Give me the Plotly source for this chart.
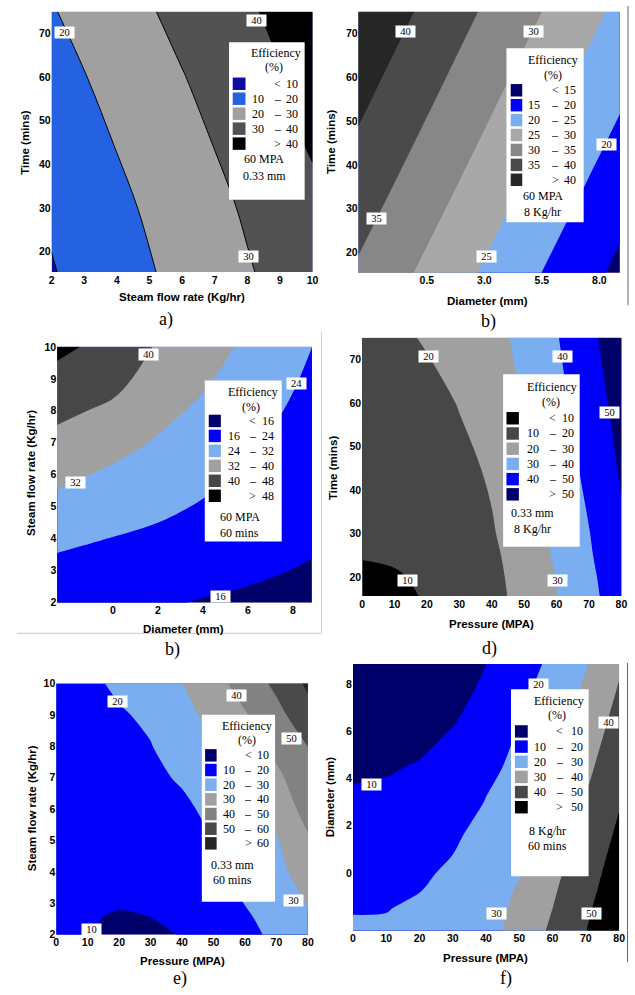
import plotly.graph_objects as go

W, H = 635, 995

# ---------------- panel a : time vs steam flow rate ----------------
A_steam = [2, 4, 6, 8, 10]
A_time = [15, 30, 45, 60, 75]
A_eff = [
    [9.4, 16.0, 22.6, 29.2, 35.8],
    [11.3, 17.9, 24.5, 31.1, 37.7],
    [13.8, 20.4, 27.0, 33.6, 41.0],
    [16.4, 23.0, 29.6, 36.2, 42.8],
    [19.4, 26.0, 32.6, 38.8, 45.3],
]
A_levels = [10, 20, 30, 40]
A_colors = ["#0c0ca3", "#2462e2", "#a0a0a0", "#525252", "#000000"]
A_conditions = ["60 MPA", "0.33 mm"]
A_labels = [("20", 2.41, 70.2), ("40", 8.28, 72.95), ("30", 8.04, 18.8)]

# ---------------- panel b (top) : time vs diameter ----------------
B1_diam = [-2.5, 0, 2.5, 5, 7.5, 9]
B1_time = [15, 45, 75]
B1_eff = [
    [34.3, 29.8, 25.3, 20.8, 16.3, 13.6],
    [39.4, 34.9, 30.4, 25.9, 21.4, 18.7],
    [44.4, 39.9, 35.4, 30.9, 26.4, 23.7],
]
B1_levels = [15, 20, 25, 30, 35, 40]
B1_colors = ["#00006b", "#0000fa", "#7aaef0", "#a8a8a8", "#878787", "#4a4a4a", "#262626"]
B1_conditions = ["60 MPA", "8 Kg/hr"]
B1_labels = [("40", -0.43, 70.4), ("30", 5.14, 70.4), ("35", -1.69, 27.7),
             ("25", 3.09, 19.1), ("20", 8.29, 44.7)]
B1_xticks = [0.5, 3.0, 5.5, 8.0]
B1_xticktext = ["0.5", "3.0", "5.5", "8.0"]

# ---------------- panel b (middle) : steam flow vs diameter ----------------
B2_diam = [-2.5, 0, 2, 4, 6, 8, 8.9]
B2_steam = [2, 3, 4, 5, 6, 7, 8, 9, 10]
B2_eff = [
    [17.8, 16.9, 16.7, 15.6, 14.9, 14.5, 14.3],
    [21.8, 20.4, 19.6, 18.2, 17.0, 15.9, 15.5],
    [25.8, 23.8, 22.5, 20.8, 19.0, 17.4, 16.7],
    [29.8, 27.3, 25.5, 23.4, 21.1, 18.8, 17.9],
    [33.8, 30.7, 28.4, 25.8, 23.2, 20.3, 19.1],
    [37.8, 34.5, 31.3, 28.2, 25.1, 21.7, 20.3],
    [41.8, 38.5, 34.0, 30.7, 26.9, 23.2, 21.5],
    [45.8, 42.5, 36.6, 33.1, 28.7, 24.6, 22.7],
    [49.8, 45.5, 39.2, 35.5, 30.5, 25.9, 23.9],
]
B2_levels = [16, 24, 32, 40, 48]
B2_colors = ["#00006b", "#0000fa", "#7aaef0", "#a0a0a0", "#474747", "#000000"]
B2_conditions = ["60 MPA", "60 mins"]
B2_labels = [("40", 1.58, 9.76), ("24", 8.16, 8.84), ("32", -1.68, 5.75), ("16", 4.79, 2.19)]

# ---------------- panel d : time vs pressure ----------------
D_press = [0, 10, 20, 30, 40, 50, 60, 70, 80]
D_time = [15, 20, 25, 30, 45, 60, 75]
D_eff = [
    [7.0, 8.5, 10.4, 14.4, 18.0, 22.1, 29.5, 37.3, 45.2],
    [8.6, 9.3, 11.2, 15.4, 18.4, 22.4, 30.3, 38.1, 45.8],
    [10.4, 11.0, 12.8, 15.6, 19.0, 22.5, 31.6, 38.9, 47.7],
    [11.2, 11.8, 13.5, 16.3, 19.3, 24.7, 32.3, 39.7, 48.6],
    [13.5, 14.3, 15.8, 17.8, 21.1, 28.1, 34.8, 42.4, 51.1],
    [14.8, 15.8, 17.0, 20.4, 25.3, 30.5, 37.2, 45.0, 53.6],
    [15.6, 18.0, 20.9, 24.5, 28.0, 31.6, 39.4, 47.6, 56.4],
]
D_levels = [10, 20, 30, 40, 50]
D_colors = ["#000000", "#474747", "#a0a0a0", "#7aaef0", "#0000fa", "#00006b"]
D_conditions = ["0.33 mm", "8 Kg/hr"]
D_labels = [("20", 20.6, 70.8), ("40", 61.9, 70.8), ("50", 76.2, 57.8),
            ("10", 13.9, 19.3), ("30", 60.2, 19.3)]

# ---------------- panel e : steam flow vs pressure ----------------
E_press = [0, 10, 20, 30, 40, 50, 60, 70, 80]
E_steam = [2, 2.5, 3, 4, 5, 6, 7, 8, 9, 10]
E_eff = [
    [12.0, 10.35, 9.2, 8.9, 10.25, 13.8, 17.2, 22.2, 27.8],
    [12.6, 10.3, 9.6, 9.9, 11.9, 15.0, 18.8, 22.9, 29.4],
    [13.2, 11.2, 10.3, 10.7, 12.8, 16.0, 20.2, 25.3, 30.4],
    [14.4, 12.6, 11.8, 12.4, 14.6, 17.9, 22.5, 27.4, 34.3],
    [15.6, 14.1, 13.4, 14.3, 16.9, 20.1, 24.7, 29.2, 38.9],
    [16.6, 15.3, 14.9, 16.0, 18.0, 22.6, 25.5, 33.7, 43.5],
    [17.8, 16.9, 16.6, 17.9, 21.1, 25.7, 30.5, 38.2, 45.6],
    [18.6, 18.4, 18.8, 19.7, 24.2, 28.8, 35.0, 42.3, 50.1],
    [19.1, 18.6, 19.2, 21.4, 27.3, 32.6, 39.3, 47.0, 56.5],
    [19.5, 18.3, 21.4, 25.7, 29.8, 36.6, 43.9, 52.2, 61.7],
]
E_levels = [10, 20, 30, 40, 50, 60]
E_colors = ["#00006b", "#0000fa", "#7aaef0", "#a0a0a0", "#828282", "#4a4a4a", "#262626"]
E_conditions = ["0.33 mm", "60 mins"]
E_labels = [("20", 19.5, 9.41), ("40", 57.2, 9.6), ("50", 74.8, 8.24),
            ("30", 75.4, 3.1), ("10", 11.2, 2.18)]

# ---------------- panel f : diameter vs pressure ----------------
F_press = [0, 10, 20, 30, 40, 50, 60, 70, 80]
F_diam = [-2.5, -1.5, -0.75, 0, 1.5, 3, 4.5, 6, 7.5, 8.9]
F_eff = [
    [21.3, 21.6, 22.8, 24.6, 26.4, 33.9, 41.7, 49.9, 58.4],
    [19.5, 19.6, 21.8, 23.6, 25.9, 32.2, 40.0, 48.4, 56.9],
    [18.3, 18.4, 19.8, 22.1, 25.85, 30.9, 38.8, 47.1, 55.6],
    [16.9, 17.3, 18.6, 21.4, 25.8, 29.5, 37.5, 45.9, 54.4],
    [14.2, 14.6, 16.0, 18.7, 23.4, 27.4, 34.9, 43.3, 51.9],
    [11.4, 11.9, 13.3, 15.9, 20.3, 25.9, 32.1, 40.6, 49.3],
    [8.7, 9.2, 10.6, 14.9, 18.3, 21.7, 29.4, 37.8, 46.5],
    [6.0, 6.4, 7.6, 10.4, 15.5, 20.5, 27.1, 35.0, 43.9],
    [3.3, 3.9, 5.0, 6.9, 12.4, 18.0, 24.5, 32.0, 41.2],
    [0.9, 1.5, 3.0, 5.6, 9.8, 15.6, 21.9, 29.3, 38.6],
]
F_levels = [10, 20, 30, 40, 50]
F_colors = ["#00006b", "#0000fa", "#7aaef0", "#a0a0a0", "#474747", "#000000"]
F_conditions = ["8 Kg/hr", "60 mins"]
F_labels = [("10", 5.6, 3.75), ("20", 55.9, 7.96), ("40", 76.7, 6.35),
            ("30", 43.1, -1.74), ("50", 71.8, -1.74)]

# ---------------- layout (pixel geometry) ----------------
SANS = "Liberation Sans, Arial, sans-serif"
SERIF = "Liberation Serif, Times New Roman, serif"

panels = [
    dict(x=A_steam, y=A_time, z=A_eff, levels=A_levels, colors=A_colors, lw=1.0, sm=1.0,
         cond=A_conditions, labels=A_labels,
         plot=(49.3, 5.7, 314, 269.3), xr=[2, 10], yr=[15.3, 75],
         xt=list(range(2, 11)), xtt=None, yt=[20, 30, 40, 50, 60, 70],
         xtitle="Steam flow rate (Kg/hr)", xtpos=(181.7, 295),
         ytitle="Time (mins)", ytpos=(22.7, 138), cap="a)", cappos=(165, 317),
         leg=dict(box=(229.3, 36.7, 306, 196), title=(277, 47.7), pct=(275, 62),
                  sq=(233, 246), y0=78.7, step=15.15, lo=258.3, dash=278.7, hi=301.7,
                  ccx=265, cy=(155.3, 172.3))),
    dict(x=B1_diam, y=B1_time, z=B1_eff, levels=B1_levels, colors=B1_colors, lw=0, sm=1.0,
         cond=B1_conditions, labels=B1_labels,
         plot=(360.7, 5.7, 625.7, 270), xr=[-2.47, 8.89], yr=[15.4, 75],
         xt=B1_xticks, xtt=B1_xticktext, yt=[20, 30, 40, 50, 60, 70],
         xtitle="Diameter (mm)", xtpos=(491.7, 298.3),
         ytitle="Time (mins)", ytpos=(333.3, 138), cap="b)", cappos=(492, 319),
         leg=dict(box=(510.7, 42.7, 589, 219), title=(558.3, 55), pct=(558.3, 70),
                  sq=(515, 526.7), y0=85.3, step=15.1, lo=539, dash=560, hi=583.3,
                  ccx=547.3, cy=(192.7, 208.3))),
    dict(x=B2_diam, y=B2_steam, z=B2_eff, levels=B2_levels, colors=B2_colors, lw=0, sm=1.0,
         cond=B2_conditions, labels=B2_labels,
         plot=(55, 345, 313.3, 604), xr=[-2.47, 8.84], yr=[2, 10],
         xt=[0, 2, 4, 6, 8], xtt=None, yt=list(range(2, 11)),
         xtitle="Diameter (mm)", xtpos=(183.5, 631),
         ytitle="Steam flow rate (Kg/hr)", ytpos=(29, 473), cap="b)", cappos=(171.5, 651),
         leg=dict(box=(204.7, 379, 282.7, 542), title=(253.3, 391), pct=(251.7, 406),
                  sq=(208.7, 221), y0=420, step=15.15, lo=234, dash=253.3, hi=277.3,
                  ccx=240, cy=(517.7, 533.3))),
    dict(x=D_press, y=D_time, z=D_eff, levels=D_levels, colors=D_colors, lw=0, sm=1.0,
         cond=D_conditions, labels=D_labels,
         plot=(364.3, 335, 627.3, 597.3), xr=[0, 80], yr=[15.6, 75.2],
         xt=list(range(0, 81, 10)), xtt=None, yt=[20, 30, 40, 50, 60, 70],
         xtitle="Pressure (MPA)", xtpos=(495.5, 626),
         ytitle="Time (mins)", ytpos=(335, 467.5), cap="d)", cappos=(493, 650),
         leg=dict(box=(507.3, 372.7, 585, 547.3), title=(556.7, 386), pct=(556, 400.7),
                  sq=(510.7, 523.3), y0=417.3, step=15.4, lo=537.5, dash=557.7, hi=581.7,
                  ccx=536.7, cy=(513.3, 529.3))),
    dict(x=E_press, y=E_steam, z=E_eff, levels=E_levels, colors=E_colors, lw=0, sm=0.8,
         cond=E_conditions, labels=E_labels,
         plot=(54, 685.7, 309.3, 940), xr=[0, 80], yr=[2, 10],
         xt=list(range(0, 81, 10)), xtt=None, yt=list(range(2, 11)),
         xtitle="Pressure (MPA)", xtpos=(181.7, 966.5),
         ytitle="Steam flow rate (Kg/hr)", ytpos=(29, 812.5), cap="e)", cappos=(180, 984),
         leg=dict(box=(201.7, 717.3, 276, 906.7), title=(248, 728.3), pct=(248, 743),
                  sq=(205, 216.7), y0=758.5, step=14.85, lo=229.5, dash=249, hi=272,
                  ccx=233, cy=(869.3, 884.6))),
    dict(x=F_press, y=F_diam, z=F_eff, levels=F_levels, colors=F_colors, lw=0, sm=1.0,
         cond=F_conditions, labels=F_labels,
         plot=(355, 666, 625, 935.7), xr=[0, 80], yr=[-2.44, 8.85],
         xt=list(range(0, 81, 10)), xtt=None, yt=[0, 2, 4, 6, 8],
         xtitle="Pressure (MPA)", xtpos=(489.7, 963.5),
         ytitle="Diameter (mm)", ytpos=(331.7, 800), cap="f)", cappos=(510, 984),
         leg=dict(box=(515.3, 691.7, 594, 881), title=(564.3, 703.3), pct=(562.3, 717.7),
                  sq=(519.3, 532.3), y0=734.3, step=15.34, lo=545, dash=565, hi=590,
                  ccx=552.3, cy=(835, 850.7))),
]


def fx(px):
    return px / W


def fy(py):
    return 1 - py / H


fig = go.Figure()
annotations = []
shapes = []
layout_axes = {}

TICKFONT = dict(family=SANS, size=10.5, color="black", weight="bold")

for i, P in enumerate(panels, start=1):
    xa = "x" if i == 1 else f"x{i}"
    ya = "y" if i == 1 else f"y{i}"
    lv = P["levels"]
    nc = len(lv)
    cscale = [[k / nc, c] for k, c in enumerate(P["colors"])]
    fig.add_trace(go.Contour(
        x=P["x"], y=P["y"], z=P["z"], xaxis=xa, yaxis=ya,
        autocontour=False,
        contours=dict(start=lv[0], end=lv[-1], size=lv[1] - lv[0], coloring="fill",
                      showlines=P["lw"] > 0),
        colorscale=cscale, showscale=False,
        line=dict(width=P["lw"], color="black", smoothing=P["sm"]),
        hoverinfo="skip",
    ))
    x0, y0, x1, y1 = P["plot"]
    xkey = "xaxis" if i == 1 else f"xaxis{i}"
    ykey = "yaxis" if i == 1 else f"yaxis{i}"
    xdict = dict(domain=[fx(x0), fx(x1)], range=P["xr"], anchor=ya, tickvals=P["xt"],
                 showgrid=False, zeroline=False, showline=False, ticks="",
                 tickfont=TICKFONT, fixedrange=True)
    if P["xtt"]:
        xdict["ticktext"] = P["xtt"]
    layout_axes[xkey] = xdict
    layout_axes[ykey] = dict(domain=[fy(y1), fy(y0)], range=P["yr"], anchor=xa,
                             tickvals=P["yt"], showgrid=False, zeroline=False,
                             showline=False, ticks="", tickfont=TICKFONT, fixedrange=True)

    # contour value labels
    for txt, lx, ly in P["labels"]:
        annotations.append(dict(x=lx, y=ly, xref=xa, yref=ya, text=txt, showarrow=False,
                                font=dict(family=SERIF, size=10.5, color="black"),
                                bgcolor="white", width=19, height=11, borderpad=0,
                                xanchor="center", yanchor="middle"))

    # axis titles & captions
    annotations.append(dict(x=fx(P["xtpos"][0]), y=fy(P["xtpos"][1]), xref="paper", yref="paper",
                            text=P["xtitle"], showarrow=False, xanchor="center", yanchor="middle",
                            font=dict(family=SANS, size=11.5, color="black", weight="bold")))
    annotations.append(dict(x=fx(P["ytpos"][0]), y=fy(P["ytpos"][1]), xref="paper", yref="paper",
                            text=P["ytitle"], showarrow=False, textangle=-90,
                            xanchor="center", yanchor="middle",
                            font=dict(family=SANS, size=11.5, color="black", weight="bold")))
    annotations.append(dict(x=fx(P["cappos"][0]), y=fy(P["cappos"][1]), xref="paper", yref="paper",
                            text=P["cap"], showarrow=False, xanchor="center", yanchor="middle",
                            font=dict(family=SERIF, size=18, color="black")))

    # legend box
    L = P["leg"]
    bx0, by0, bx1, by1 = L["box"]
    shapes.append(dict(type="rect", xref="paper", yref="paper", x0=fx(bx0), x1=fx(bx1),
                       y0=fy(by1), y1=fy(by0), fillcolor="white", line=dict(width=0)))
    lf = dict(family=SERIF, size=12, color="black")
    annotations.append(dict(x=fx(L["title"][0]), y=fy(L["title"][1]), xref="paper", yref="paper",
                            text="Efficiency", showarrow=False, xanchor="center",
                            yanchor="middle", font=lf))
    annotations.append(dict(x=fx(L["pct"][0]), y=fy(L["pct"][1]), xref="paper", yref="paper",
                            text="(%)", showarrow=False, xanchor="center", yanchor="middle",
                            font=lf))
    ncol = len(P["colors"])
    for k in range(ncol):
        cy = L["y0"] + k * L["step"]
        shapes.append(dict(type="rect", xref="paper", yref="paper",
                           x0=fx(L["sq"][0]), x1=fx(L["sq"][1]),
                           y0=fy(cy + 6.3), y1=fy(cy - 6.3),
                           fillcolor=P["colors"][k], line=dict(width=0)))
        if k == 0:
            lo, mid, hi = "", "<", str(lv[0])
        elif k == ncol - 1:
            lo, mid, hi = "", ">", str(lv[-1])
        else:
            lo, mid, hi = str(lv[k - 1]), "\u2013", str(lv[k])
        if lo:
            annotations.append(dict(x=fx(L["lo"]), y=fy(cy), xref="paper", yref="paper",
                                    text=lo, showarrow=False, xanchor="center",
                                    yanchor="middle", font=lf))
        annotations.append(dict(x=fx(L["dash"]), y=fy(cy), xref="paper", yref="paper",
                                text=mid, showarrow=False, xanchor="center",
                                yanchor="middle", font=lf))
        annotations.append(dict(x=fx(L["hi"]), y=fy(cy), xref="paper", yref="paper",
                                text=hi, showarrow=False, xanchor="right",
                                yanchor="middle", font=lf))
    for txt, cy in zip(P["cond"], L["cy"]):
        annotations.append(dict(x=fx(L["ccx"]), y=fy(cy), xref="paper", yref="paper",
                                text=txt, showarrow=False, xanchor="center",
                                yanchor="middle", font=lf))

# faint frame lines of the pasted sub-figures
for (xa0, ya0, xa1, ya1, col) in [
    (14, 635, 320, 635, "#c8c8c8"),
    (323, 330, 323, 635, "#d0d0d0"),
    (315, 635, 323, 635, "#d0d0d0"),
    (634, 0, 634, 303, "#666666"),
    (633.5, 665, 633.5, 968, "#666666"),
]:
    shapes.append(dict(type="line", xref="paper", yref="paper", x0=fx(xa0), x1=fx(xa1),
                       y0=fy(ya0), y1=fy(ya1), line=dict(color=col, width=1)))

fig.update_layout(
    width=W, height=H, margin=dict(l=0, r=0, t=0, b=0),
    paper_bgcolor="white", plot_bgcolor="white", showlegend=False,
    annotations=annotations, shapes=shapes, **layout_axes,
)

fig.write_html("out.html", config={"displayModeBar": False},
               post_script="document.body.style.margin='0px';"
                           "document.body.style.overflow='hidden';")
